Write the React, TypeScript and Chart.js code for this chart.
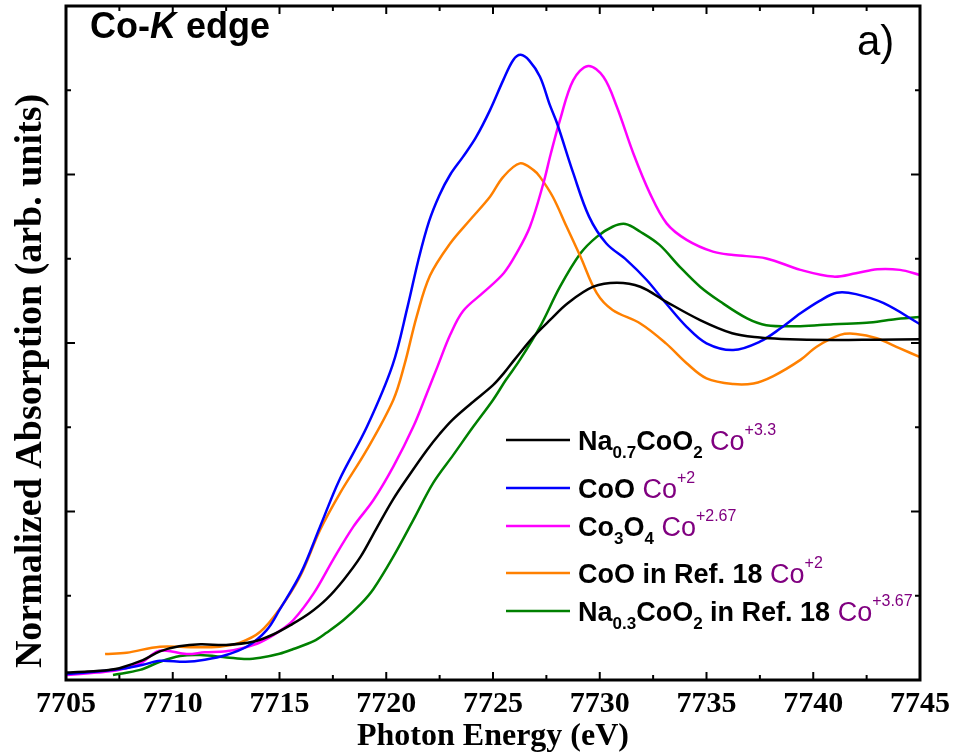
import React, { useEffect, useRef } from "react";
import { Chart, registerables } from "chart.js";

Chart.register(...registerables);

// ---- Data (Photon energy in eV, normalized absorption) ----
const E_NA07 = [7705, 7706, 7707, 7707.5, 7708.6, 7709.4, 7710.3, 7711.3, 7712.5, 7713.8, 7714.7, 7715.6, 7716.4, 7717.2, 7718.0, 7718.8, 7719.5, 7720.3, 7721.1, 7721.9, 7722.5, 7723.1, 7724.0, 7725.0, 7725.5, 7726.0, 7726.9, 7727.7, 7728.5, 7729.7, 7730.8, 7731.9, 7733.1, 7734.7, 7736.2, 7737.5, 7738.5, 7740.9, 7743, 7745];
const V_NA07 = [0.022, 0.025, 0.030, 0.035, 0.059, 0.085, 0.100, 0.106, 0.104, 0.114, 0.135, 0.166, 0.198, 0.240, 0.297, 0.366, 0.445, 0.534, 0.610, 0.682, 0.730, 0.772, 0.822, 0.875, 0.910, 0.950, 1.019, 1.070, 1.118, 1.167, 1.179, 1.167, 1.123, 1.068, 1.029, 1.016, 1.012, 1.009, 1.010, 1.011];

const E_COO = [7705, 7706.5, 7707.8, 7708.6, 7709.4, 7710.6, 7711.5, 7712.5, 7713.5, 7714.4, 7715.0, 7716.0, 7716.9, 7717.8, 7719.1, 7720.3, 7721.0, 7721.5, 7722.0, 7722.5, 7723.0, 7723.6, 7724.2, 7724.86, 7725.48, 7725.95, 7726.3, 7726.7, 7727.2, 7727.67, 7728.0, 7728.76, 7729.5, 7730.3, 7731.26, 7732.2, 7733.1, 7734.07, 7735.0, 7736.25, 7737.5, 7738.5, 7739.4, 7740.3, 7741.1, 7742.0, 7743.3, 7745];
const V_COO = [0.018, 0.025, 0.035, 0.045, 0.057, 0.054, 0.060, 0.074, 0.100, 0.148, 0.208, 0.317, 0.455, 0.593, 0.752, 0.935, 1.108, 1.245, 1.360, 1.440, 1.500, 1.553, 1.610, 1.691, 1.780, 1.840, 1.855, 1.838, 1.790, 1.705, 1.652, 1.504, 1.375, 1.296, 1.246, 1.187, 1.118, 1.048, 0.999, 0.979, 1.004, 1.045, 1.088, 1.125, 1.149, 1.145, 1.118, 1.056];

const E_CO3O4 = [7705, 7706.5, 7707.5, 7708.5, 7709.25, 7709.7, 7710.65, 7711.5, 7712.5, 7713.3, 7714.1, 7715.0, 7715.65, 7716.6, 7717.5, 7718.46, 7719.4, 7720.33, 7721.27, 7721.9, 7722.4, 7723.0, 7723.6, 7724.55, 7725.5, 7726.1, 7726.73, 7727.36, 7727.7, 7728.14, 7728.76, 7729.46, 7730.17, 7730.8, 7731.57, 7732.35, 7733.13, 7734.07, 7735.3, 7736.26, 7737.8, 7739.4, 7740.94, 7742.0, 7743.0, 7744.06, 7745];
const V_CO3O4 = [0.015, 0.022, 0.030, 0.050, 0.084, 0.087, 0.077, 0.082, 0.085, 0.095, 0.112, 0.145, 0.178, 0.257, 0.356, 0.455, 0.534, 0.633, 0.752, 0.850, 0.930, 1.025, 1.095, 1.150, 1.207, 1.266, 1.345, 1.474, 1.560, 1.662, 1.780, 1.822, 1.790, 1.701, 1.563, 1.444, 1.355, 1.306, 1.271, 1.261, 1.251, 1.217, 1.197, 1.207, 1.219, 1.217, 1.202];

const E_COO_REF = [7706.83, 7707.84, 7709.4, 7710.96, 7712.2, 7713.15, 7714.1, 7715.0, 7715.96, 7716.9, 7717.83, 7719.08, 7720.33, 7720.85, 7721.43, 7722.05, 7723.0, 7723.92, 7724.86, 7725.48, 7726.26, 7726.9, 7727.2, 7727.8, 7728.45, 7729.1, 7729.86, 7730.6, 7731.9, 7733.1, 7734.07, 7735.0, 7736.26, 7737.2, 7738.13, 7739.4, 7740.16, 7741.26, 7742.0, 7742.97, 7744.06, 7745];
const V_COO_REF = [0.077, 0.081, 0.099, 0.097, 0.099, 0.111, 0.143, 0.210, 0.307, 0.445, 0.554, 0.682, 0.831, 0.935, 1.080, 1.200, 1.296, 1.365, 1.434, 1.493, 1.533, 1.513, 1.493, 1.434, 1.345, 1.256, 1.148, 1.098, 1.058, 0.999, 0.940, 0.895, 0.878, 0.880, 0.902, 0.950, 0.989, 1.024, 1.027, 1.014, 0.984, 0.958];

const E_NA03_REF = [7707.2, 7708.47, 7709.4, 7710.34, 7711.28, 7712.53, 7713.46, 7714.1, 7715.0, 7715.65, 7716.6, 7717.2, 7718.0, 7718.8, 7719.4, 7720.33, 7721.27, 7722.2, 7723.14, 7724.08, 7725.0, 7725.6, 7726.26, 7727.2, 7728.14, 7729.1, 7729.86, 7730.6, 7731.2, 7731.9, 7732.8, 7733.75, 7734.7, 7735.64, 7736.9, 7737.8, 7739.4, 7740.94, 7742.5, 7743.75, 7745];
const V_NA03_REF = [0.015, 0.030, 0.054, 0.071, 0.074, 0.067, 0.062, 0.066, 0.078, 0.092, 0.115, 0.140, 0.178, 0.225, 0.270, 0.366, 0.475, 0.585, 0.668, 0.752, 0.831, 0.890, 0.950, 1.048, 1.167, 1.266, 1.315, 1.345, 1.353, 1.330, 1.291, 1.226, 1.167, 1.123, 1.073, 1.053, 1.050, 1.056, 1.060, 1.070, 1.077];

const X_MIN = 7705;
const X_MAX = 7745;
const X_STEP = 5;
const Y_MIN = 0;
const Y_MAX = 2;
const Y_STEP = 0.5;

const SERIES_COLORS = ["#000000", "#0000ff", "#ff00ff", "#ff8000", "#008000"];
const SERIES_NAMES = ["Na0.7CoO2 Co+3.3", "CoO Co+2", "Co3O4 Co+2.67", "CoO in Ref. 18 Co+2", "Na0.3CoO2 in Ref. 18 Co+3.67"];

type Seg = { t: string; kind: "main" | "sub" | "co" | "sup" };
const LEGEND_ROWS: Seg[][] = [
  [{ t: "Na", kind: "main" }, { t: "0.7", kind: "sub" }, { t: "CoO", kind: "main" }, { t: "2", kind: "sub" }, { t: " Co", kind: "co" }, { t: "+3.3", kind: "sup" }],
  [{ t: "CoO", kind: "main" }, { t: " Co", kind: "co" }, { t: "+2", kind: "sup" }],
  [{ t: "Co", kind: "main" }, { t: "3", kind: "sub" }, { t: "O", kind: "main" }, { t: "4", kind: "sub" }, { t: " Co", kind: "co" }, { t: "+2.67", kind: "sup" }],
  [{ t: "CoO in Ref. 18", kind: "main" }, { t: " Co", kind: "co" }, { t: "+2", kind: "sup" }],
  [{ t: "Na", kind: "main" }, { t: "0.3", kind: "sub" }, { t: "CoO", kind: "main" }, { t: "2", kind: "sub" }, { t: " in Ref. 18", kind: "main" }, { t: " Co", kind: "co" }, { t: "+3.67", kind: "sup" }],
];
const LEGEND_LINE_Y = [440, 488, 526, 573, 611];

const SANS = '"Liberation Sans", Arial, sans-serif';
const SERIF = '"Liberation Serif", "Times New Roman", serif';

function toPoints(E: number[], V: number[]) {
  return E.map((e, i) => ({ x: e, y: V[i] }));
}

const decorPlugin = {
  id: "decor",
  afterDraw(chart: any) {
    const { ctx, chartArea } = chart;
    const { left, right, top, bottom } = chartArea;
    const xs = chart.scales.x;
    const ys = chart.scales.y;
    ctx.save();

    // frame
    ctx.strokeStyle = "#000";
    ctx.lineWidth = 3;
    ctx.strokeRect(left, top, right - left, bottom - top);

    // ticks (inward)
    ctx.lineWidth = 2;
    const seg = (x1: number, y1: number, x2: number, y2: number) => {
      ctx.beginPath();
      ctx.moveTo(x1, y1);
      ctx.lineTo(x2, y2);
      ctx.stroke();
    };
    for (let i = 0; i <= (X_MAX - X_MIN) / (X_STEP / 2); i++) {
      const v = X_MIN + i * (X_STEP / 2);
      const px = xs.getPixelForValue(v);
      const L = i % 2 === 0 ? 8 : 5;
      seg(px, bottom, px, bottom - L);
      seg(px, top, px, top + L);
    }
    for (let i = 0; i <= (Y_MAX - Y_MIN) / (Y_STEP / 2); i++) {
      const v = Y_MIN + i * (Y_STEP / 2);
      const py = ys.getPixelForValue(v);
      const L = i % 2 === 0 ? 9 : 5;
      seg(left, py, left + L, py);
      seg(right, py, right - L, py);
    }

    // axis titles
    ctx.fillStyle = "#000";
    ctx.font = `bold 32px ${SERIF}`;
    ctx.textAlign = "center";
    ctx.textBaseline = "alphabetic";
    ctx.fillText("Photon Energy (eV)", (left + right) / 2, 745);

    ctx.save();
    ctx.translate(41, 381);
    ctx.rotate(-Math.PI / 2);
    ctx.font = `bold 38px ${SERIF}`;
    ctx.fillText("Normalized Absorption (arb. units)", 0, 0);
    ctx.restore();

    // panel title
    ctx.textAlign = "left";
    let tx = 90;
    const ty = 38;
    ctx.font = `bold 36px ${SANS}`;
    ctx.fillText("Co-", tx, ty);
    tx += ctx.measureText("Co-").width;
    ctx.font = `italic bold 36px ${SANS}`;
    ctx.fillText("K", tx, ty);
    tx += ctx.measureText("K").width;
    ctx.font = `bold 36px ${SANS}`;
    ctx.fillText(" edge", tx, ty);

    ctx.font = `42px ${SANS}`;
    ctx.fillText("a)", 857, 55);

    // legend
    LEGEND_ROWS.forEach((row, r) => {
      const ly = LEGEND_LINE_Y[r];
      ctx.strokeStyle = SERIES_COLORS[r];
      ctx.lineWidth = 2.5;
      seg(506, ly, 570, ly);
      let x = 578;
      const base = ly + 10;
      row.forEach((s) => {
        let font = `bold 27px ${SANS}`;
        let color = "#000";
        let dy = 0;
        if (s.kind === "sub") { font = `bold 17px ${SANS}`; dy = 8; }
        if (s.kind === "co") { font = `27px ${SANS}`; color = "#800080"; }
        if (s.kind === "sup") { font = `16px ${SANS}`; color = "#800080"; dy = -15; }
        ctx.font = font;
        ctx.fillStyle = color;
        ctx.fillText(s.t, x, base + dy);
        x += ctx.measureText(s.t).width;
      });
    });

    ctx.restore();
  },
};

export default function App() {
  const ref = useRef<HTMLCanvasElement | null>(null);

  useEffect(() => {
    if (!ref.current) return;
    const series = [
      toPoints(E_NA07, V_NA07),
      toPoints(E_COO, V_COO),
      toPoints(E_CO3O4, V_CO3O4),
      toPoints(E_COO_REF, V_COO_REF),
      toPoints(E_NA03_REF, V_NA03_REF),
    ];
    const chart = new Chart(ref.current, {
      type: "line",
      data: {
        datasets: series.map((d, i) => ({
          label: SERIES_NAMES[i],
          data: d,
          borderColor: SERIES_COLORS[i],
          backgroundColor: SERIES_COLORS[i],
          borderWidth: 2.5,
          pointRadius: 0,
          tension: 0.35,
          fill: false,
        })),
      },
      options: {
        animation: false,
        responsive: false,
        maintainAspectRatio: false,
        events: [],
        layout: { padding: { left: 0, right: 39, top: 6, bottom: 0 } },
        plugins: { legend: { display: false }, tooltip: { enabled: false } },
        scales: {
          x: {
            type: "linear",
            min: X_MIN,
            max: X_MAX,
            grid: { display: false, drawTicks: false },
            border: { display: false },
            ticks: {
              stepSize: X_STEP,
              autoSkip: false,
              maxRotation: 0,
              padding: 6,
              color: "#000",
              font: { family: SERIF, size: 30, weight: "bold" },
              callback: (v: any) => String(v),
            },
            afterFit: (s: any) => { s.height = 75; },
          },
          y: {
            type: "linear",
            min: Y_MIN,
            max: Y_MAX,
            grid: { display: false, drawTicks: false },
            border: { display: false },
            ticks: { display: false, stepSize: Y_STEP },
            afterFit: (s: any) => { s.width = 66; },
          },
        },
      },
      plugins: [decorPlugin],
    });
    return () => chart.destroy();
  }, []);

  return (
    <div style={{ position: "absolute", left: 0, top: 0, width: 959, height: 755, background: "#fff" }}>
      <canvas ref={ref} width={959} height={755} style={{ display: "block" }} />
    </div>
  );
}
